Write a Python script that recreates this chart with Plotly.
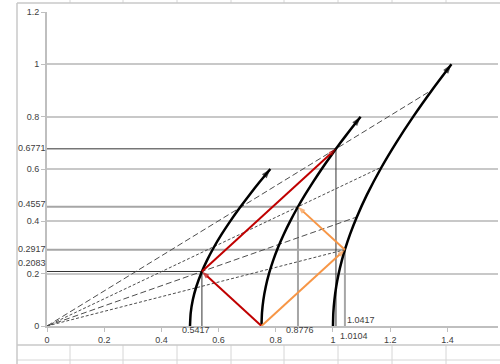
import plotly.graph_objects as go

# ---- data ----
# three world-line branches (x, y)
c1_x = [0.5, 0.5025, 0.5099, 0.5220, 0.5417, 0.5590, 0.5831, 0.6103, 0.6403, 0.6727, 0.7071, 0.7433, 0.7810]
c1_y = [0.0, 0.05, 0.10, 0.15, 0.2083, 0.25, 0.30, 0.35, 0.40, 0.45, 0.50, 0.55, 0.60]
c2_x = [0.75, 0.7517, 0.7566, 0.7649, 0.7762, 0.7906, 0.8078, 0.8276, 0.85, 0.8776, 0.9014, 0.9301,
        0.9605, 0.9925, 1.0104, 1.0259, 1.0607, 1.0966]
c2_y = [0.0, 0.05, 0.10, 0.15, 0.20, 0.25, 0.30, 0.35, 0.40, 0.4557, 0.50, 0.55,
        0.60, 0.65, 0.6771, 0.70, 0.75, 0.80]
c3_x = [1.0, 1.0012, 1.0050, 1.0112, 1.0198, 1.0308, 1.0417, 1.0595, 1.0834, 1.1180, 1.1701,
        1.2207, 1.2806, 1.3472, 1.4142]
c3_y = [0.0, 0.05, 0.10, 0.15, 0.20, 0.25, 0.2917, 0.35, 0.4166, 0.50, 0.6076,
        0.70, 0.80, 0.9028, 1.0]

# light signals
red_x = [0.75, 0.5417, 1.0104]
red_y = [0.0, 0.2083, 0.6771]
orange_x = [0.75, 1.0417, 0.8776]
orange_y = [0.0, 0.2917, 0.4557]

# rays from the origin (end points)
ray_dash_x = [1.3472, 1.0834]
ray_dash_y = [0.9028, 0.4166]
ray_dot_x = [1.1701, 1.0417]
ray_dot_y = [0.6076, 0.2917]

# projected events
proj_dark_x = [1.0104, 0.5417]
proj_dark_y = [0.6771, 0.2083]
proj_gray_x = [0.8776, 1.0417]
proj_gray_y = [0.4557, 0.2917]

# value labels
ylab_vals = [0.6771, 0.4557, 0.2917, 0.2083]
xlab_vals = [0.5417, 0.8776, 1.0104, 1.0417]

FONT = "Liberation Sans"
TXT = "#404040"
FS = 9

fig = go.Figure()

def add_line(xs, ys, color, width, dash="solid"):
    fig.add_trace(go.Scatter(x=xs, y=ys, mode="lines", hoverinfo="skip",
                             line=dict(color=color, width=width, dash=dash)))

# projection lines
for px_, py_ in zip(proj_gray_x, proj_gray_y):
    add_line([0, px_, px_], [py_, py_, 0], "#A6A6A6", 2)
for px_, py_ in zip(proj_dark_x, proj_dark_y):
    add_line([0, px_, px_], [py_, py_, 0], "#333333", 1)

# rays
for rx, ry in zip(ray_dash_x, ray_dash_y):
    add_line([0, rx], [0, ry], "#4D4D4D", 1, "6px,3px")
for rx, ry in zip(ray_dot_x, ray_dot_y):
    add_line([0, rx], [0, ry], "#4D4D4D", 1, "3px,2px")

# curves with arrow at the end
for cx, cy in [(c1_x, c1_y), (c2_x, c2_y), (c3_x, c3_y)]:
    n = len(cx)
    fig.add_trace(go.Scatter(
        x=cx, y=cy, mode="lines+markers", hoverinfo="skip",
        line=dict(color="black", width=2.5, shape="spline", smoothing=0.6),
        marker=dict(symbol="arrow", angleref="previous", color="black",
                    size=[0] * (n - 1) + [10], line=dict(width=0))))

# light signal paths with arrowheads
for sx, sy, col in [(red_x, red_y, "#C00000"), (orange_x, orange_y, "#F79646")]:
    fig.add_trace(go.Scatter(
        x=sx, y=sy, mode="lines+markers", hoverinfo="skip",
        line=dict(color=col, width=2),
        marker=dict(symbol="arrow", angleref="previous", color=col,
                    size=[0, 8, 8], line=dict(width=0))))

# labels on the y side
yshifts = [1, 3, 1, 8]
for v, s in zip(ylab_vals, yshifts):
    fig.add_annotation(x=0, y=v, xref="x", yref="y", text=f"{v:.4f}", showarrow=False,
                       xanchor="right", yanchor="middle", xshift=1, yshift=s,
                       font=dict(family=FONT, size=FS, color=TXT))
# labels on the x side
xcfg = [("center", -6, -4), ("center", 2, -4), ("left", 2, -10), ("left", 0, 6)]
for v, (anc, xs, ys) in zip(xlab_vals, xcfg):
    fig.add_annotation(x=v, y=0, xref="x", yref="y", text=f"{v:.4f}", showarrow=False,
                       xanchor=anc, yanchor="middle", xshift=xs, yshift=ys,
                       font=dict(family=FONT, size=FS, color=TXT))

# chart frame and surrounding sheet cells (decoration)
W, L, T, B = 451.0, 47.0, 12.0, 326.0
def px(p):
    return (p - L) / W
def py(p):
    return (B - p) / (B - T)

shapes = []
gcol = "#D6D6D6"
for cx in [70, 123, 177, 231, 284, 338, 392, 446]:
    shapes.append(dict(type="line", xref="paper", yref="paper", x0=px(cx), x1=px(cx),
                       y0=py(0), y1=py(3), line=dict(color=gcol, width=1)))
    shapes.append(dict(type="line", xref="paper", yref="paper", x0=px(cx), x1=px(cx),
                       y0=py(345), y1=py(364), line=dict(color=gcol, width=1)))
shapes.append(dict(type="line", xref="paper", yref="paper", x0=px(17), x1=px(500),
                   y0=py(360), y1=py(360), line=dict(color=gcol, width=1)))
shapes.append(dict(type="line", xref="paper", yref="paper", x0=px(17), x1=px(17),
                   y0=py(3), y1=py(364), line=dict(color="#C8C8C8", width=1.5)))
shapes.append(dict(type="line", xref="paper", yref="paper", x0=px(17), x1=px(500),
                   y0=py(3), y1=py(3), line=dict(color="#C8C8C8", width=1.5)))
shapes.append(dict(type="line", xref="paper", yref="paper", x0=px(17), x1=px(500),
                   y0=py(345), y1=py(345), line=dict(color="#C8C8C8", width=1.5)))

fig.update_layout(
    width=500, height=364,
    margin=dict(l=47, r=2, t=12, b=38),
    paper_bgcolor="white", plot_bgcolor="white",
    showlegend=False,
    shapes=shapes,
    font=dict(family=FONT, size=FS, color=TXT),
    xaxis=dict(range=[0, 1.577], dtick=0.2, tick0=0, showgrid=False, zeroline=False,
               showline=True, linecolor="#BFBFBF", linewidth=2,
               ticks="outside", ticklen=4, tickcolor="#BFBFBF", tickwidth=1,
               tickfont=dict(family=FONT, size=FS, color=TXT)),
    yaxis=dict(range=[0, 1.2], dtick=0.2, tick0=0, showgrid=True, gridcolor="#C8C8C8",
               gridwidth=1.5, zeroline=False,
               showline=True, linecolor="#BFBFBF", linewidth=2,
               ticks="outside", ticklen=4, tickcolor="#BFBFBF", tickwidth=1,
               tickfont=dict(family=FONT, size=FS, color=TXT)),
)

fig.write_html("out.html")
